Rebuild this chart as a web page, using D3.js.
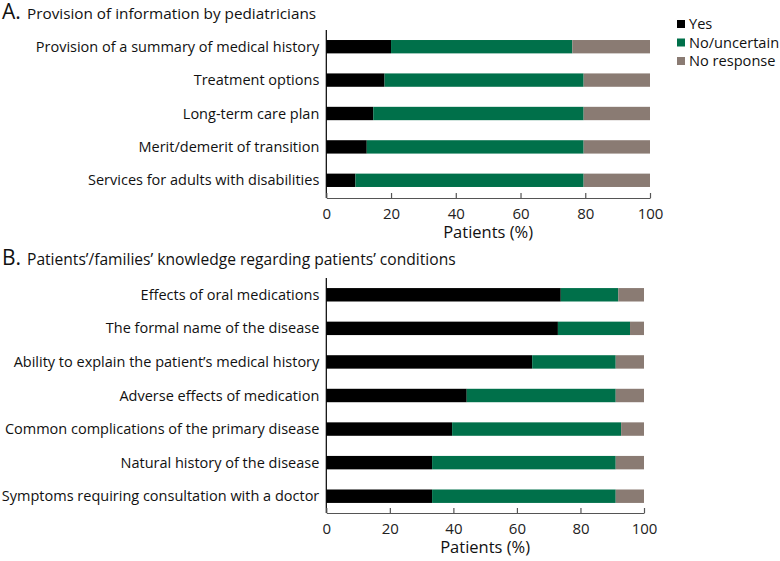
<!DOCTYPE html>
<html><head><meta charset="utf-8">
<script src="https://cdn.jsdelivr.net/npm/d3@7"></script>
<style>body{margin:0;background:#fff;} text{font-family:"Open Sans",sans-serif;}</style>
</head><body>
<svg id="chart" width="780" height="561"></svg>
<script>
const seriesNames = ["Yes", "No/uncertain", "No response"];
const colors = ["#000000", "#00704a", "#8a7b73"];

const catsA = ["Provision of a summary of medical history", "Treatment options", "Long-term care plan", "Merit/demerit of transition", "Services for adults with disabilities"];
const yesA = [20, 18, 14.5, 12.5, 9];
const noA = [56, 61.5, 65, 67, 70.5];
const nrA = [24, 20.5, 20.5, 20.5, 20.5];

const catsB = ["Effects of oral medications", "The formal name of the disease", "Ability to explain the patient\u2019s medical history", "Adverse effects of medication", "Common complications of the primary disease", "Natural history of the disease", "Symptoms requiring consultation with a doctor"];
const yesB = [73.8, 72.9, 64.8, 44.2, 39.6, 33.3, 33.3];
const noB = [18.1, 22.7, 26.3, 46.9, 53.2, 57.8, 57.8];
const nrB = [8.1, 4.4, 8.9, 8.9, 7.2, 8.9, 8.9];

const xTicks = [0, 20, 40, 60, 80, 100];

const svg = d3.select("#chart");

function panel(cats, yes, no, nr, x0, x1, y0, y1, axisY, letter, title, titleY, titleSize) {
  const g = svg.append("g");
  const x = d3.scaleLinear().domain([0, 100]).range([x0, x1]);
  const y = d3.scaleBand().domain(cats).range([y0, y1]).paddingInner(0.6).paddingOuter(0.3);
  const rows = cats.map((c, i) => ({cat: c, Yes: yes[i], "No/uncertain": no[i], "No response": nr[i]}));
  const stack = d3.stack().keys(seriesNames)(rows);
  g.selectAll("g.s").data(stack).join("g").attr("fill", (d, i) => colors[i])
    .selectAll("rect").data(d => d).join("rect")
    .attr("x", d => x(d[0])).attr("width", d => x(d[1]) - x(d[0]))
    .attr("y", d => y(d.data.cat)).attr("height", y.bandwidth());
  // y labels
  g.selectAll("text.yl").data(cats).join("text")
    .attr("x", x0 - 7).attr("y", d => y(d) + y.bandwidth() / 2).attr("dy", "0.35em")
    .attr("text-anchor", "end").attr("font-size", 14.5).attr("fill", "#111").text(d => d);
  // y axis line
  g.append("line").attr("x1", x0).attr("x2", x0).attr("y1", y0).attr("y2", axisY).attr("stroke", "#000").attr("stroke-width", 1.2);
  // x axis
  const ax = g.append("g").attr("transform", `translate(0,${axisY})`)
    .call(d3.axisBottom(x).tickValues(xTicks).tickSize(5).tickSizeOuter(0));
  ax.select(".domain").attr("stroke", "#555").attr("stroke-width", 1.2);
  ax.selectAll(".tick line").attr("stroke", "#555").attr("stroke-width", 1.2).attr("y1", -5).attr("y2", 0);
  ax.selectAll(".tick text").attr("font-family", "Open Sans").attr("font-size", 15).attr("fill", "#222").attr("y", 10);
  g.append("text").attr("x", (x0 + x1) / 2).attr("y", axisY + 40).attr("text-anchor", "middle")
    .attr("font-size", 16.5).attr("fill", "#111").text("Patients (%)");
  // title
  g.append("text").attr("x", 2).attr("y", titleY).attr("fill", "#111").attr("font-size", 21).text(letter);
  g.append("text").attr("x", 27).attr("y", titleY).attr("fill", "#111").attr("font-size", titleSize).text(title);
}

panel(catsA, yesA, noA, nrA, 326.3, 650, 30, 197, 198, "A.", "Provision of information by pediatricians", 19, 15.3);
panel(catsB, yesB, noB, nrB, 326.3, 644, 278, 513, 513, "B.", "Patients\u2019/families\u2019 knowledge regarding patients\u2019 conditions", 265, 15.6);

// legend
const leg = svg.append("g");
seriesNames.forEach((s, i) => {
  const ly = 24 + i * 18.5;
  leg.append("rect").attr("x", 677).attr("y", ly - 4).attr("width", 8).attr("height", 8).attr("fill", colors[i]);
  leg.append("text").attr("x", 689).attr("y", ly).attr("dy", "0.35em").attr("font-size", 14.6).attr("fill", "#111").text(s);
});
</script>
</body></html>
